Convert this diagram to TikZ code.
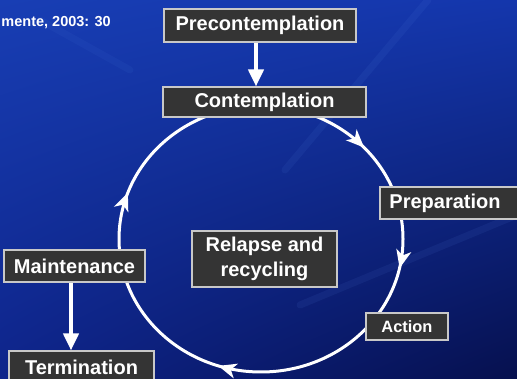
\documentclass[tikz,border=0pt]{standalone}
\usepackage{fontspec}
\setmainfont{Liberation Sans}
\usetikzlibrary{arrows.meta,decorations.markings,shadings}
\definecolor{bgA}{RGB}{24,62,180}
\definecolor{bgB}{RGB}{20,54,172}
\definecolor{bgC}{RGB}{14,36,138}
\definecolor{bgD}{RGB}{6,16,78}
\definecolor{boxfill}{RGB}{52,52,52}
\definecolor{boxline}{RGB}{200,200,200}
\definecolor{veinc}{RGB}{90,140,230}
\begin{document}
\begin{tikzpicture}[x=1pt,y=1pt,
  stagebox/.style={draw=boxline, line width=1.1pt, fill=boxfill, text=white,
    font=\bfseries\fontsize{20}{25}\selectfont, inner sep=0pt, align=center},
  smallbox/.style={stagebox, font=\bfseries\fontsize{16.4}{20}\selectfont},
  flowarrow/.style={draw=white, line width=4pt, -{Triangle[length=17pt,width=15pt]}},
  cycleline/.style={draw=white, line width=3pt},
  vein/.style={draw=veinc, opacity=0.09, line width=7pt, line cap=round}
]
\useasboundingbox (0,0) rectangle (517,-379);
\clip (0,0) rectangle (517,-379);
% background
\shade[upper left=bgA, upper right=bgB, lower left=bgC, lower right=bgD] (0,0) rectangle (517,-379);
\draw[vein] (428,0) -- (285,-170);
\draw[vein] (300,-305) -- (517,-215);
\draw[vein, opacity=0.07] (40,-20) -- (130,-70);
% cycle
\draw[cycleline, postaction={decorate}, decoration={markings,
    mark=at position 0.118 with {\arrowreversed[white]{Stealth[length=18pt,width=15pt,inset=5pt]}},
    mark=at position 0.445 with {\arrowreversed[white]{Stealth[length=18pt,width=15pt,inset=5pt]}},
    mark=at position 0.700 with {\arrowreversed[white]{Stealth[length=18pt,width=15pt,inset=5pt]}},
    mark=at position 0.966 with {\arrowreversed[white]{Stealth[length=18pt,width=15pt,inset=5pt]}}}]
  (261,-239) ellipse [x radius=142, y radius=133];
% nodes
\node[anchor=base east, text=white, font=\bfseries\fontsize{14.5}{17}\selectfont, inner sep=0pt] (cite) at (111,-27) {mente, 2003: 30};
\node[stagebox, minimum width=192pt, minimum height=33pt] (pre) at (260,-25.5) {Precontemplation};
\node[stagebox, minimum width=203pt, minimum height=30pt] (con) at (264.5,-102) {Contemplation};
\node[stagebox, minimum width=140pt, minimum height=32pt, text width=140pt] (prep) at (450,-203) {Preparation\hspace*{10pt}};
\node[smallbox, minimum width=82pt, minimum height=27pt] (act) at (407,-326.5) {Action};
\node[stagebox, minimum width=145pt, minimum height=56pt] (rel) at (264.5,-259) {Relapse and\\recycling};
\node[stagebox, minimum width=141pt, minimum height=32pt] (main) at (74.5,-266) {Maintenance};
\node[stagebox, minimum width=145pt, minimum height=32pt] (term) at (81.5,-367) {Termination};
% arrows
\draw[flowarrow] ([xshift=-4pt]pre.south) -- ([xshift=-4pt]pre.south |- con.north);
\draw[flowarrow] ([xshift=-3.5pt]main.south) -- ([xshift=-3.5pt]main.south |- term.north);
\end{tikzpicture}
\end{document}
